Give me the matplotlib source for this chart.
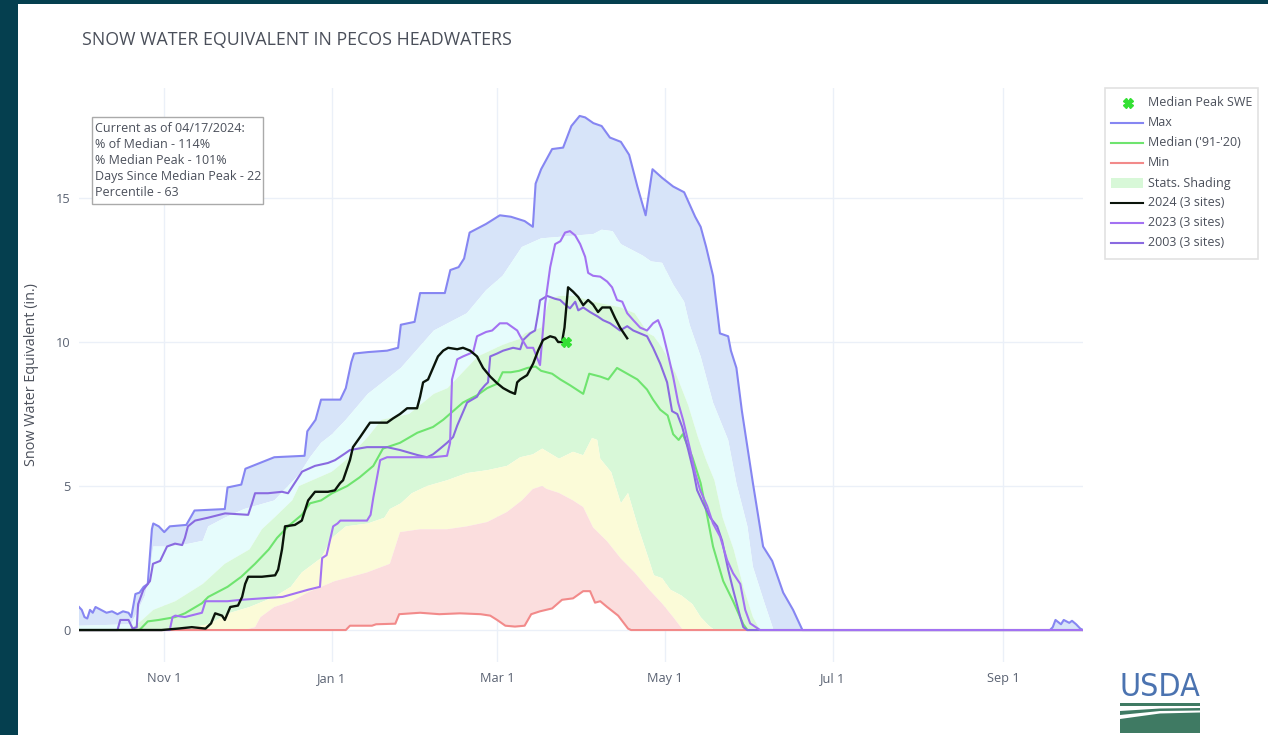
import numpy as np
import matplotlib
matplotlib.use("Agg")
import matplotlib.pyplot as plt
import matplotlib.dates as mdates
from matplotlib.lines import Line2D
from matplotlib.patches import Rectangle, Polygon
import datetime as dt

plt.rcParams['font.family'] = ['Open Sans', 'DejaVu Sans']

# ---------------- data (x = days since 2023-10-01, y = inches) ----------------
MAX_D = [0,1,2,3,4,5,6,8,10,12,14,16,18,19,20.5,22,23.5,25,26.5,27,29,31,33,39,42,53,54,59,60.5,71,
         82,83,86,88,95,97,99,100,105,112,116,117,122,124,133,135,138,140,142,148,153,157,162,165,166,168,
         172,176,179,182,184,187,190,193,197,200,203,206,208.5,212,216,220,224,226,228,230.5,233,236,237,239,
         241,245,248.7,252,256,259.6,263,353,354,355,357,358,360,361,362.5,364,365]
MAX_V = [0.8,0.7,0.45,0.4,0.7,0.6,0.8,0.7,0.6,0.65,0.55,0.65,0.6,0.45,1.25,1.3,1.5,1.6,3.5,3.7,3.6,3.4,3.6,3.65,4.15,4.2,4.95,5.05,5.6,6.0,
         6.05,6.9,7.3,8.0,8.0,8.4,9.3,9.6,9.65,9.7,9.8,10.6,10.7,11.7,11.7,12.5,12.6,12.9,13.8,14.1,14.4,14.35,14.2,14.0,15.5,16.0,
         16.7,16.75,17.5,17.85,17.8,17.6,17.5,17.1,16.95,16.5,15.4,14.4,16.0,15.7,15.4,15.2,14.35,14.0,13.3,12.3,10.3,10.2,9.7,9.1,
         7.6,5.1,2.9,2.4,1.3,0.7,0.0,0.0,0.1,0.35,0.2,0.35,0.25,0.32,0.2,0.05,0.0]

P90_D = [0,19,21,24,26,27,33,40,45,47,53,60,71,80,84,88,92,97,105,117,129,141,148,154,161,168,187,190,194,197,
         205,208,212,216,220,222,226,230.5,236,239,243,245,249,252.5,365]
P90_V = [0.15,0.2,0.6,1.2,2.2,2.9,2.9,3.0,3.1,3.6,3.9,4.2,4.5,5.4,6.0,6.5,6.8,7.3,8.2,9.1,10.4,11.0,11.8,12.3,13.3,13.6,13.75,13.9,13.85,13.4,
         13.0,12.8,12.75,12.0,11.4,10.6,9.5,7.9,6.6,5.1,3.6,2.2,1.0,0.0,0.0]

P70_D = [0,18,21,23,27,35,45,53,62,66.5,71,77.5,80,92,97,105,110,120,129,134,141,145,154,160,162,168,171,174.5,180,187,
         192,197,202,207,209,212,217,221.5,225,228,231,234,238,241.5,245,247.6,365]
P70_V = [0,0,0.2,0.35,0.7,1.0,1.6,2.3,2.8,3.5,3.9,4.5,5.0,5.5,5.9,6.7,7.3,7.5,8.2,8.4,9.1,9.5,9.9,10.1,10.3,10.5,11.5,11.6,11.6,11.4,
         11.3,11.2,11.0,10.3,10.2,9.8,8.9,7.8,6.7,5.9,5.2,3.9,2.8,1.5,0.45,0,0]

MED_D = [0,22,23,25,29,35,38.5,44.7,47,54,59,64,69,72,76,81,84,88,92,97.5,102,107,110.5,116.7,123,128.7,132.4,136,139.6,144.7,
         148.4,152,154,157,160,163,166,168,172,175,178.5,183.3,185.5,189.5,192.4,195.6,199.3,203,206.5,208.7,211.3,214,216,218,219.5,
         223,226,228.4,230.5,234.2,237.8,241.5,243,365]
MED_V = [0,0,0.1,0.3,0.35,0.45,0.58,0.93,1.15,1.5,1.85,2.3,2.8,3.2,3.6,4.0,4.4,4.5,4.75,5.0,5.3,5.7,6.3,6.5,6.85,7.05,7.3,7.6,7.9,8.15,
         8.4,8.55,8.95,8.95,9.0,9.1,9.15,9.0,8.9,8.7,8.5,8.2,8.9,8.8,8.7,9.1,8.9,8.7,8.35,8.0,7.65,7.45,6.8,6.6,6.8,
         6.0,5.1,3.95,2.9,1.7,1.0,0.2,0,0]

P30_D = [0,40,41,47,55,62,71,77,81,88,92,97,105,111,113,117,121,126.5,133.8,141,148.4,155.6,160.4,165,168.4,174.5,179.6,183.3,186.5,188.4,
         189.5,193.5,197,199.6,203.3,207,209,212,215,219,223,226,229,231,365]
P30_V = [0,0,0.1,0.2,0.6,0.8,1.15,1.5,2.0,2.5,3.2,3.6,3.7,3.9,4.2,4.4,4.75,5.0,5.2,5.45,5.55,5.7,6.0,6.1,6.3,5.95,6.19,6.07,6.67,6.6,
         5.95,5.48,4.4,4.76,3.56,2.5,1.9,1.8,1.4,1.2,0.9,0.45,0.15,0,0]

P10_D = [0,60,64,66,71,77.5,83,88,93,97,104.7,113,116.7,124,133.8,141,148.4,155.6,161,165,168.4,170,174.5,179.6,183.3,186.9,192,197,202,207.3,
         212,216,219.6,365]
P10_V = [0,0,0.1,0.45,0.8,1.0,1.3,1.5,1.7,1.8,2.0,2.3,3.4,3.5,3.5,3.6,3.75,4.1,4.5,4.9,5.0,4.9,4.76,4.5,4.27,3.56,3.08,2.48,2.0,1.4,
         0.92,0.45,0,0]

MIN_D = [0,97,98.5,106.5,108,115,116.4,124,131,138.5,146,149.5,152,155,158.5,162,164.4,167.6,172,175.6,179.6,183.3,185.8,187.6,189.5,192,196,199.6,200.7,365]
MIN_V = [0,0,0.15,0.15,0.2,0.22,0.55,0.6,0.55,0.58,0.55,0.5,0.35,0.15,0.12,0.15,0.55,0.65,0.75,1.05,1.1,1.35,1.35,0.95,1.0,0.8,0.5,0.05,0,0]

Y24_D = [0,30,36,41,46,48,49.5,52,53,55,57.8,59.3,60.4,61.5,66.5,71.3,72.4,73.8,74.9,78.5,81,82.2,83.3,85.8,90.5,93,94.9,96,98.5,99.6,
         102.2,104.7,105.8,112,114.2,116.7,119.3,122.9,124,125.1,126.9,128.7,130.5,132.4,134.2,137.5,139.6,142.2,144.7,146.9,
         149.5,152,154.2,156.7,158.5,159.3,160.4,162.9,165.1,166.9,168.7,171.3,173.1,174.2,175.6,176.5,177.8,179.6,181.5,183.3,
         185.1,186.9,188.7,190.2,192,193.1,194.9,196.7,199.3]
Y24_V = [0,0,0.05,0.1,0.05,0.23,0.58,0.5,0.35,0.8,0.85,1.15,1.6,1.85,1.85,1.9,2.1,2.8,3.6,3.65,3.8,4.17,4.5,4.8,4.8,4.85,5.1,5.2,5.9,6.35,
         6.7,7.05,7.2,7.2,7.35,7.5,7.7,7.7,8.1,8.6,8.7,9.1,9.5,9.7,9.8,9.75,9.8,9.7,9.5,9.1,
         8.8,8.57,8.4,8.27,8.2,8.6,8.7,8.85,9.25,9.7,10.07,10.2,10.15,10.0,10.0,10.5,11.9,11.75,11.56,11.28,
         11.46,11.3,11.04,11.2,11.2,11.2,10.83,10.5,10.13]

Y23_D = [0,33,34,35,38.5,44.7,46,54,59,66.5,74,83.3,87.6,88.4,90,92.4,94,95,104.7,106,107,109.5,112,128.7,133.8,134.9,135.6,137.5,139.6,143.3,
         144.7,148,150.2,153,155.6,159.3,160.4,162.9,165.1,167.6,169.5,171.3,173.1,175,176.7,178.5,180.4,182.2,184,185.1,
         186.9,189.5,192,193.8,195.6,197.5,199.3,201.5,204,206.5,208.7,210.5,212,213.8,216,217.8,219.6,222.2,224,225.8,
         228.4,230.5,233.1,235.6,237.8,240.4,242.2,244,247.6,365]
Y23_V = [0,0,0.45,0.5,0.45,0.6,1.0,1.0,1.05,1.1,1.15,1.4,1.5,2.5,2.6,3.6,3.7,3.8,3.8,4.0,4.6,5.9,6.0,6.0,6.05,6.5,8.7,9.4,9.5,9.65,
         10.2,10.35,10.4,10.65,10.65,10.4,10.2,9.8,9.8,9.2,11.35,12.6,13.4,13.5,13.8,13.85,13.7,13.4,12.96,12.4,
         12.3,12.27,12.1,11.9,11.46,11.4,11.0,10.76,10.5,10.4,10.65,10.76,10.4,9.7,8.8,7.9,7.3,6.25,5.45,4.86,
         4.3,3.7,3.24,2.43,1.97,1.6,0.7,0.23,0,0]

Y03_D = [0,14,15,18,19.5,21,21.5,23.4,25.8,26.9,29.5,32,34.9,37.5,38.5,39.6,42.2,46.9,53.1,61.5,62.9,64,68.7,73.8,76,77.5,81.1,85.8,90.5,93.1,
         96.7,98.5,104.7,112,116.7,122.9,126.5,128.7,131.3,133.8,136,137.5,141.1,144.7,145.8,147.6,148.7,149.5,152,154.2,
         157.8,160.4,161.5,164,165.8,166.9,167.6,170.2,173.1,174.9,176.7,178.5,180.4,181.5,183.3,185.8,188.7,190.5,193.1,196.7,
         199.3,201.5,204,206.5,208.7,211.3,213.8,215.6,217.5,219.3,221.5,223.3,224.7,226.9,229.5,232,233.8,236,237.8,240.4,
         241.5,242.9,365]
Y03_V = [0,0,0.35,0.35,0.05,0.1,0.9,1.4,1.7,2.3,2.4,2.9,3.0,2.95,3.2,3.6,3.8,3.9,4.05,4.0,4.4,4.75,4.75,4.8,4.75,4.97,5.5,5.7,5.8,5.9,
         6.13,6.25,6.35,6.35,6.25,6.08,6.0,6.1,6.3,6.5,6.7,7.1,7.9,8.1,8.3,8.5,8.6,9.5,9.6,9.7,
         9.8,9.75,10.07,10.3,10.4,11.0,11.45,11.6,11.5,11.46,11.3,11.17,11.4,11.1,11.2,11.04,10.88,10.76,10.65,10.4,
         10.55,10.4,10.3,10.2,9.8,9.25,8.6,7.6,7.5,7.05,6.25,5.55,4.86,4.4,3.9,3.6,3.1,2.1,1.4,0.45,
         0.1,0,0]

PEAK_D = [177]
PEAK_V = [10.0]

TICK_DATES = ["2023-11-01", "2024-01-01", "2024-03-01", "2024-05-01", "2024-07-01", "2024-09-01"]
TICK_LABELS = ["Nov 1", "Jan 1", "Mar 1", "May 1", "Jul 1", "Sep 1"]
Y_TICKS = [0, 5, 10, 15]

LEGEND_LABELS = ["Median Peak SWE", "Max", "Median ('91-'20)", "Min", "Stats. Shading",
                 "2024 (3 sites)", "2023 (3 sites)", "2003 (3 sites)"]
INFO_LINES = ["Current as of 04/17/2024:", "% of Median - 114%", "% Median Peak - 101%",
              "Days Since Median Peak - 22", "Percentile - 63"]

# ---------------- styles ----------------
C_MAX = '#8686f2'
C_MED = '#6fe46f'
C_MIN = '#f28a8a'
C_24 = '#0a140a'
C_23 = '#a372f2'
C_03 = '#8a6ae0'
C_PEAK = '#33e033'
F_BLUE = '#d7e4f9'
F_CYAN = '#e6fcfc'
F_GREEN = '#d8f8d8'
F_YELLOW = '#fbfbd8'
F_PINK = '#fbdede'
TXT = '#4a4f5a'
TICK_TXT = '#5a6272'

W, H = 1268, 735
fig = plt.figure(figsize=(W / 100, H / 100), dpi=100)
fig.patch.set_facecolor('white')


def fx(px):
    return px / W


def fy(py):
    return 1 - py / H


ax = fig.add_axes([fx(79), fy(662), fx(1083) - fx(79), fy(88) - fy(662)])
START = mdates.date2num(dt.datetime(2023, 10, 1))


def X(days):
    return START + np.asarray(days, float)


def band(ud, uv, ld, lv, color):
    xs = np.concatenate([X(ud), X(ld)[::-1]])
    ys = np.concatenate([np.asarray(uv, float), np.asarray(lv, float)[::-1]])
    ax.fill(xs, ys, color=color, lw=0, zorder=1)


band(MAX_D, MAX_V, P90_D, P90_V, F_BLUE)
band(P90_D, P90_V, P70_D, P70_V, F_CYAN)
band(P70_D, P70_V, P30_D, P30_V, F_GREEN)
band(P30_D, P30_V, P10_D, P10_V, F_YELLOW)
band(P10_D, P10_V, MIN_D, MIN_V, F_PINK)

lw = 1.5
ax.plot(X(MAX_D), MAX_V, color=C_MAX, lw=lw, zorder=3)
ax.plot(X(MED_D), MED_V, color=C_MED, lw=lw, zorder=3)
ax.plot(X(MIN_D), MIN_V, color=C_MIN, lw=lw, zorder=3)
ax.plot(X(Y03_D), Y03_V, color=C_03, lw=lw, zorder=4)
ax.plot(X(Y23_D), Y23_V, color=C_23, lw=lw, zorder=4)
ax.plot(X(Y24_D), Y24_V, color=C_24, lw=1.7, zorder=5)
ax.plot(X(PEAK_D), PEAK_V, linestyle='none', marker='X', ms=7, color=C_PEAK, mec=C_PEAK, zorder=6)

ax.set_xlim(X(0), X(365))
ax.set_ylim(-1.11, 18.82)
ax.set_xticks([mdates.date2num(dt.datetime.strptime(d, "%Y-%m-%d")) for d in TICK_DATES])
ax.set_xticklabels(TICK_LABELS)
ax.set_yticks(Y_TICKS)
ax.set_yticklabels([str(v) for v in Y_TICKS])
ax.tick_params(axis='both', length=0, labelsize=9.2, labelcolor=TICK_TXT)
ax.tick_params(axis='x', pad=7)
ax.tick_params(axis='y', pad=6)
ax.grid(True, color='#ebf0f8', lw=1)
ax.set_axisbelow(True)
for s in ax.spines.values():
    s.set_visible(False)

# title and axis label
fig.text(fx(82), fy(40), "SNOW WATER EQUIVALENT IN PECOS HEADWATERS", fontsize=12.8, color=TXT,
         ha='left', va='center')
fig.text(fx(32), fy(375), "Snow Water Equivalent (in.)", rotation=90, fontsize=10.4, color=TXT,
         ha='center', va='center')

# info box
fig.add_artist(Rectangle((fx(92), fy(204)), fx(263) - fx(92), fy(117) - fy(204),
                         transform=fig.transFigure, fc='white', ec='#aaaaaa', lw=1, zorder=10))
for i, line in enumerate(INFO_LINES):
    fig.text(fx(95), fy(128 + i * 16.2), line, fontsize=9.0, color=TXT, ha='left', va='center', zorder=11)

# legend
fig.add_artist(Rectangle((fx(1105), fy(259)), fx(1258) - fx(1105), fy(88) - fy(259),
                         transform=fig.transFigure, fc='white', ec='#e2e2e2', lw=1.2, zorder=10))
leg_styles = [('marker', C_PEAK), ('line', C_MAX), ('line', C_MED), ('line', C_MIN), ('patch', F_GREEN),
              ('line', C_24), ('line', C_23), ('line', C_03)]
for i, (lab, (kind, col)) in enumerate(zip(LEGEND_LABELS, leg_styles)):
    yy = 103 + i * 20
    if kind == 'marker':
        fig.add_artist(Line2D([fx(1128)], [fy(yy)], transform=fig.transFigure, marker='X', ms=7,
                              color=col, linestyle='none', zorder=11))
    elif kind == 'line':
        fig.add_artist(Line2D([fx(1111), fx(1143)], [fy(yy), fy(yy)], transform=fig.transFigure,
                              color=col, lw=1.5, zorder=11))
    else:
        fig.add_artist(Rectangle((fx(1111), fy(yy + 5)), fx(1143) - fx(1111), fy(yy - 5) - fy(yy + 5),
                                 transform=fig.transFigure, fc=col, ec='none', zorder=11))
    fig.text(fx(1148), fy(yy), lab, fontsize=9, color=TXT, ha='left', va='center', zorder=11)

# page border
fig.add_artist(Rectangle((0, fy(4)), 1, fy(0) - fy(4), transform=fig.transFigure, fc='#053f4f', ec='none'))
fig.add_artist(Rectangle((0, 0), fx(18), 1, transform=fig.transFigure, fc='#053f4f', ec='none'))

# USDA logo
fig.text(fx(1160), fy(688), "USDA", fontsize=23, color='#4b73b0', ha='center', va='center',
         family=['Liberation Sans Narrow', 'DejaVu Sans'], fontstretch='condensed')
green = '#3f7a63'
fig.add_artist(Polygon([(fx(1120), fy(703)), (fx(1200), fy(703)), (fx(1200), fy(706)), (fx(1120), fy(706))],
                       closed=True, transform=fig.transFigure, fc=green, ec='none'))
fig.add_artist(Polygon([(fx(1120), fy(711)), (fx(1160), fy(708.5)), (fx(1200), fy(708)), (fx(1200), fy(710.5)),
                        (fx(1160), fy(711)), (fx(1120), fy(715))],
                       closed=True, transform=fig.transFigure, fc=green, ec='none'))
fig.add_artist(Polygon([(fx(1120), fy(719)), (fx(1160), fy(713.5)), (fx(1200), fy(712.5)), (fx(1200), fy(733)),
                        (fx(1120), fy(733))],
                       closed=True, transform=fig.transFigure, fc=green, ec='none'))

fig.savefig("out.png", dpi=100)
